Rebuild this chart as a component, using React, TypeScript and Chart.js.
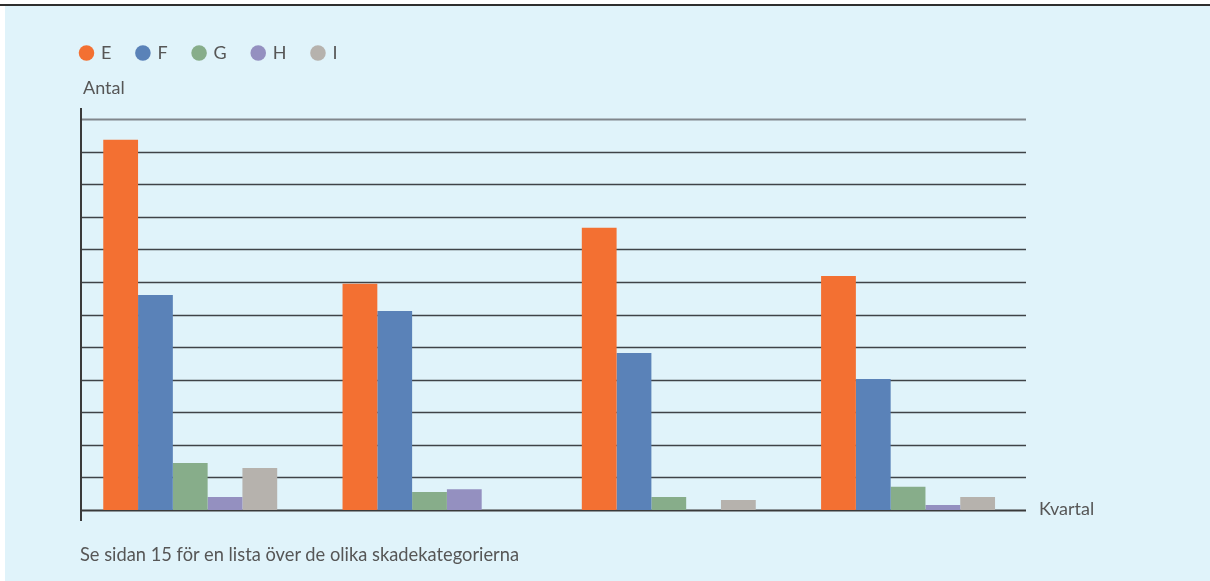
import React, { useEffect, useRef } from "react";
import { Chart, registerables } from "chart.js";

Chart.register(...registerables);

const categories = ["Kvartal 1", "Kvartal 2", "Kvartal 3", "Kvartal 4"];
const seriesNames = ["E", "F", "G", "H", "I"];
const seriesE = [11.36, 6.94, 8.66, 7.18];
const seriesF = [6.6, 6.11, 4.82, 4.02];
const seriesG = [1.44, 0.55, 0.4, 0.71];
const seriesH = [0.4, 0.64, 0, 0.15];
const seriesI = [1.29, 0, 0.31, 0.4];
const seriesColors = ["#f37032", "#5a82b8", "#87ad8a", "#9490c0", "#b6b2ad"];
const yMax = 12;

const FONT = "Lato, 'Open Sans', sans-serif";
const TEXT = "#565656";

const refGrid = {
  id: "refGrid",
  beforeInit(chart: any) {
    const legend = chart.legend;
    if (legend) {
      const orig = legend.fit;
      legend.fit = function () {
        orig.call(this);
        this.height += 47;
      };
    }
  },
  beforeDatasetsDraw(chart: any) {
    const { ctx, chartArea, scales } = chart;
    const y = scales.y;
    const left = chartArea.left + 10.4;
    const right = chartArea.right - 1.7;
    ctx.save();
    y.ticks.forEach((t: any) => {
      const py = Math.round(y.getPixelForValue(t.value)) + 0.5;
      ctx.beginPath();
      if (t.value === 0) {
        ctx.strokeStyle = "#3a3a3a";
        ctx.lineWidth = 2;
      } else if (t.value === yMax) {
        ctx.strokeStyle = "#80868b";
        ctx.lineWidth = 2;
      } else {
        ctx.strokeStyle = "#3f4347";
        ctx.lineWidth = 1.6;
      }
      ctx.moveTo(left, py);
      ctx.lineTo(right, py);
      ctx.stroke();
    });
    ctx.beginPath();
    ctx.strokeStyle = "#3a3a3a";
    ctx.lineWidth = 2;
    ctx.moveTo(left, chartArea.top - 11);
    ctx.lineTo(left, chartArea.bottom + 11);
    ctx.stroke();
    ctx.restore();
  },
};

export default function App() {
  const canvasRef = useRef<HTMLCanvasElement | null>(null);

  useEffect(() => {
    const all = [seriesE, seriesF, seriesG, seriesH, seriesI];
    const chart = new Chart(canvasRef.current as HTMLCanvasElement, {
      type: "bar",
      data: {
        labels: categories,
        datasets: seriesNames.map((name, i) => ({
          label: name,
          data: all[i],
          backgroundColor: seriesColors[i],
          borderWidth: 0,
          barPercentage: 1,
          categoryPercentage: 0.727,
        })),
      },
      options: {
        responsive: false,
        animation: false,
        devicePixelRatio: 1,
        layout: { padding: { left: 55, top: 18, right: 182.3, bottom: 71 } },
        plugins: {
          legend: {
            display: true,
            position: "top",
            align: "start",
            labels: {
              usePointStyle: true,
              pointStyle: "circle",
              boxWidth: 11,
              boxHeight: 11,
              padding: 26,
              color: TEXT,
              font: { family: FONT, size: 18, weight: "400" },
            },
          },
          title: { display: false },
          tooltip: { enabled: false },
        },
        scales: {
          x: {
            type: "category",
            display: false,
            offset: true,
          },
          y: {
            min: 0,
            max: yMax,
            ticks: { display: false, stepSize: 1 },
            grid: { display: false },
            border: { display: false },
            afterFit(scale: any) {
              scale.width = 15.6;
            },
          },
        },
      },
      plugins: [refGrid],
    });
    return () => chart.destroy();
  }, []);

  const textStyle = {
    position: "absolute" as const,
    color: TEXT,
    fontWeight: 400,
    lineHeight: "22px",
    whiteSpace: "nowrap" as const,
  };

  return (
    <div
      style={{
        position: "fixed",
        left: 0,
        top: 0,
        width: 1210,
        height: 581,
        background: "#ffffff",
        overflow: "hidden",
        fontFamily: FONT,
      }}
    >
      <div
        style={{
          position: "absolute",
          left: 5,
          top: 6,
          width: 1205,
          height: 575,
          background: "#e0f3fa",
        }}
      />
      <div
        style={{
          position: "absolute",
          left: 0,
          top: 4,
          width: 1210,
          height: 2,
          background: "#2e2e2e",
        }}
      />
      <canvas
        ref={canvasRef}
        width={1210}
        height={581}
        style={{ position: "absolute", left: 0, top: 0, width: 1210, height: 581 }}
      />
      <span style={{ ...textStyle, left: 83, top: 76, fontSize: 18 }}>Antal</span>
      <span style={{ ...textStyle, left: 1039, top: 497, fontSize: 18 }}>Kvartal</span>
      <span style={{ ...textStyle, left: 80, top: 543, fontSize: 18.3 }}>
        Se sidan 15 för en lista över de olika skadekategorierna
      </span>
    </div>
  );
}
